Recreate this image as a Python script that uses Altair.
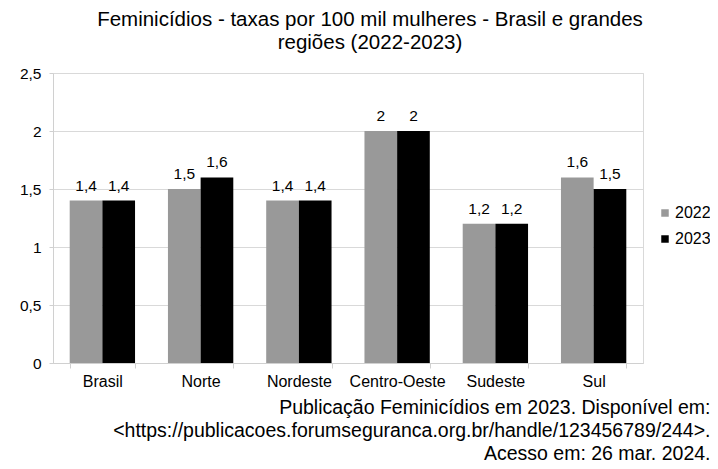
import altair as alt
import pandas as pd

categories = ["Brasil", "Norte", "Nordeste", "Centro-Oeste", "Sudeste", "Sul"]
years = ["2022", "2023"]
v2022 = [1.4, 1.5, 1.4, 2, 1.2, 1.6]
v2023 = [1.4, 1.6, 1.4, 2, 1.2, 1.5]

title_lines = ["Feminicídios - taxas por 100 mil mulheres - Brasil e grandes",
               "regiões (2022-2023)"]
source_lines = ["Publicação Feminicídios em 2023. Disponível em:",
                "<https://publicacoes.forumseguranca.org.br/handle/123456789/244>.",
                "Acesso em: 26 mar. 2024."]

rows = []
for c, a, b in zip(categories, v2022, v2023):
    rows.append({"regiao": c, "ano": "2022", "taxa": a})
    rows.append({"regiao": c, "ano": "2023", "taxa": b})
df = pd.DataFrame(rows)

FONT = "Liberation Sans"

base = alt.Chart(df).encode(
    x=alt.X("regiao:N", sort=categories,
            scale=alt.Scale(paddingInner=0.335, paddingOuter=0.17),
            axis=alt.Axis(title=source_lines, labelAngle=0, labelFontSize=16,
                          labelFont=FONT, labelColor="#000", labelPadding=5,
                          tickBand="extent", tickSize=5, tickColor="#d0d0d0",
                          domainColor="#d0d0d0", grid=False,
                          titleFont=FONT, titleFontSize=19.5, titleFontWeight="normal",
                          titleColor="#000", titleX=657, titleY=50,
                          titleAlign="right", titleBaseline="alphabetic",
                          titleAngle=0, titleLineHeight=23)),
    xOffset=alt.XOffset("ano:N", sort=years),
)

bars = base.mark_bar().encode(
    y=alt.Y("taxa:Q", scale=alt.Scale(domain=[0, 2.5], nice=False),
            axis=alt.Axis(title=None, values=[0, 0.5, 1, 1.5, 2, 2.5],
                          labelExpr="replace(toString(datum.value), '.', ',')",
                          labelFontSize=15.5, labelFont=FONT, labelColor="#000",
                          labelPadding=8, tickSize=4, tickColor="#d0d0d0",
                          domainColor="#d0d0d0", gridColor="#d9d9d9")),
    color=alt.Color("ano:N", sort=years,
                    scale=alt.Scale(domain=years, range=["#999999", "#000000"]),
                    legend=alt.Legend(title=None, orient="none", legendX=604, legendY=132,
                                      symbolType="square", symbolSize=56,
                                      symbolStrokeWidth=0, labelFontSize=16,
                                      labelFont=FONT, labelColor="#000",
                                      rowPadding=10, labelOffset=2)),
)

labels = base.transform_calculate(
    lbl="replace(toString(datum.taxa), '.', ',')"
).mark_text(font=FONT, fontSize=15.5, color="#000", baseline="alphabetic", dy=-10).encode(
    y=alt.Y("taxa:Q"),
    text="lbl:N",
)

chart = alt.layer(bars, labels).properties(
    width=590, height=290,
    autosize=alt.AutoSizeParams(type="none"),
    padding={"left": 45, "top": 65, "right": 67, "bottom": 98},
    title=alt.TitleParams(text=title_lines, anchor="middle", dx=22, offset=13,
                          font=FONT, fontSize=20.5, fontWeight="normal",
                          color="#000", lineHeight=23),
).configure_view(stroke="#d9d9d9")

chart.save("out.html", embed_options={"renderer": "svg", "actions": False})
